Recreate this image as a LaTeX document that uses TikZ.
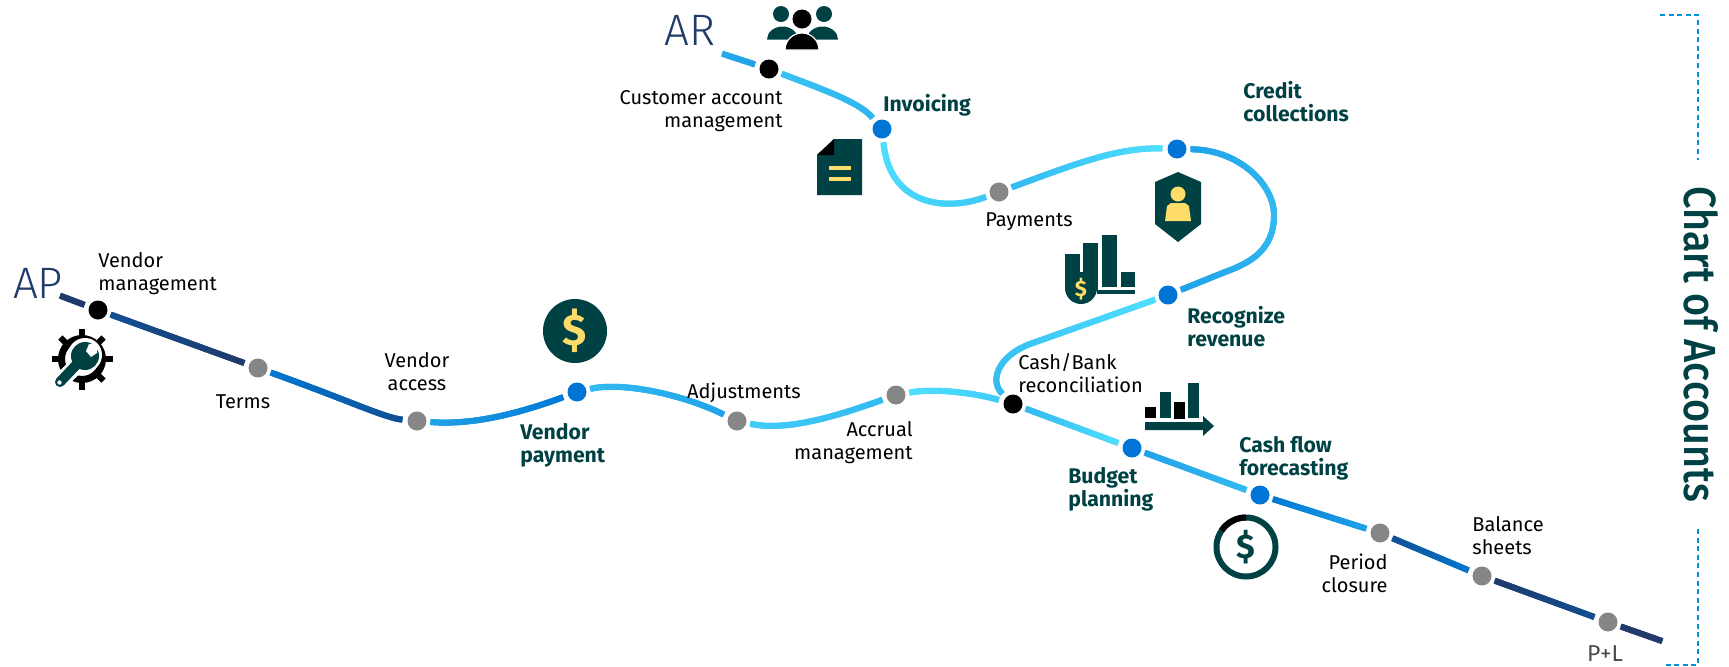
\documentclass[tikz,border=0pt]{standalone}
\usepackage{fontspec}
\setmainfont{Fira Sans}
\newfontfamily\lightfont{Fira Sans Light}
\newfontfamily\mediumfont{Fira Sans Medium}
\usetikzlibrary{decorations.markings}
\definecolor{tealk}{HTML}{004144}
\definecolor{yelk}{HTML}{FDDC69}
\definecolor{navyk}{HTML}{1F3A6B}
\definecolor{bluek}{HTML}{0075D6}
\definecolor{greyk}{HTML}{868686}
\definecolor{ln_a}{HTML}{1F3A6B}
\definecolor{ln_b}{HTML}{114F93}
\definecolor{ln_c}{HTML}{0078D4}
\definecolor{ln_d}{HTML}{21A3E8}
\definecolor{ln_e}{HTML}{33BAF1}
\definecolor{ln_f}{HTML}{4FDFFF}
\tikzset{
  stop_base/.style = {circle, inner sep=0pt, minimum size=9.5pt, outer sep=2.5pt},
  stop_k/.style = {stop_base, fill=black},% black stop
  stop_g/.style = {stop_base, fill=greyk},% grey stop
  stop_f/.style = {stop_base, fill=bluek},% blue stop
  lab_n/.style = {inner sep=0pt, font=\fontsize{10}{11.5}\selectfont, text=black},
  lab_f/.style = {inner sep=0pt, font=\fontsize{10.6}{11.5}\selectfont\bfseries, text=tealk},
  lab_h/.style = {inner sep=0pt, font=\fontsize{22}{24}\selectfont\lightfont, text=navyk},
  seg/.style 2 args = {draw=#1!50!#2, line width=3pt, postaction={decorate,
    decoration={markings, mark=between positions 0 and 1 step 1pt with {
      \pgfmathsetmacro\segpct{100-100*\pgfkeysvalueof{/pgf/decoration/mark info/distance from start}/\pgfdecoratedpathlength}
      \fill[#2!\segpct!#1] (-0.6pt,-1.5pt) rectangle (0.6pt,1.5pt);}}}},
  bracket/.style = {draw=bluek!80!cyan, line width=0.55pt, dash pattern=on 2.5pt off 1.8pt}
}
\begin{document}
\begin{tikzpicture}[x=0.5pt,y=-0.5pt]
\useasboundingbox (0,0) rectangle (1729,666);
% stops
\coordinate (ap_in) at (61,296);
\node [stop_k] (vmgmt) at (98,310) {};
\node [stop_g] (terms) at (258,368) {};
\node [stop_g] (vacc) at (417,421) {};
\node [stop_f] (vpay) at (577,392) {};
\node [stop_g] (adj) at (737,421) {};
\node [stop_g] (accr) at (896,395) {};
\node [stop_k] (cash) at (1013,404) {};
\node [stop_f] (budg) at (1132,448) {};
\node [stop_f] (flow) at (1260,495) {};
\node [stop_g] (peri) at (1380,533) {};
\node [stop_g] (bal) at (1482,576) {};
\node [stop_g] (pl) at (1608,622) {};
\coordinate (pl_out) at (1662,641);
\coordinate (ar_in) at (723,54);
\node [stop_k] (cust) at (769,69) {};
\node [stop_f] (inv) at (882,129) {};
\node [stop_g] (paym) at (999,192) {};
\node [stop_f] (cred) at (1177,149) {};
\coordinate (cred_b) at (1274,215);
\node [stop_f] (recog) at (1168,295) {};
% AP line
\draw [seg={ln_a}{ln_a}] (ap_in) -- (vmgmt);
\draw [seg={ln_a}{ln_b}] (vmgmt) -- (terms);
\draw [seg={ln_b}{ln_c}] (terms) .. controls (350,401) and (385,418) .. (vacc);
\draw [seg={ln_c}{ln_d}] (vacc) .. controls (470,425) and (515,415) .. (vpay);
\draw [seg={ln_d}{ln_e}] (vpay) .. controls (620,382) and (680,393) .. (adj);
\draw [seg={ln_e}{ln_e!50!ln_f}] (adj) .. controls (790,432) and (845,413) .. (accr);
\draw [seg={ln_e!50!ln_f}{ln_f}] (accr) .. controls (935,388) and (975,393) .. (cash);
\draw [seg={ln_f}{ln_e}] (cash) -- (budg);
\draw [seg={ln_e}{ln_d}] (budg) -- (flow);
\draw [seg={ln_d}{ln_c}] (flow) -- (peri);
\draw [seg={ln_c}{ln_b}] (peri) -- (bal);
\draw [seg={ln_b}{ln_a}] (bal) -- (pl);
\draw [seg={ln_a}{ln_a}] (pl) -- (pl_out);
% AR line
\draw [seg={ln_d}{ln_d!70!ln_e}] (ar_in) -- (cust);
\draw [seg={ln_e!80!ln_d}{ln_e!60!ln_f}] (cust) .. controls (830,92) and (860,103) .. (inv);
\draw [seg={ln_e!60!ln_f}{ln_f}] (inv) .. controls (890,205) and (945,212) .. (paym);
\draw [seg={ln_f}{ln_e}] (paym) .. controls (1080,162) and (1120,147) .. (cred);
\draw [seg={ln_e}{ln_d}] (cred) .. controls (1240,150) and (1274,185) .. (cred_b);
\draw [seg={ln_d}{ln_e}] (cred_b) .. controls (1274,250) and (1250,263) .. (1225,272) -- (recog);
\draw [seg={ln_e}{ln_f}] (recog) -- (1030,344) .. controls (1000,355) and (988,380) .. (cash);
% labels
\node [lab_h] (ap_t) at (38,283) {AP};
\node [lab_h] (ar_t) at (690,30) {AR};
\node [lab_n, anchor=west, align=left] (t_vmgmt) at (98,274) {Vendor\\management};
\node [lab_n] (t_terms) at (243,402) {Terms};
\node [lab_n, align=center] (t_vacc) at (417,372) {Vendor\\access};
\node [lab_f, anchor=west, align=left] (t_vpay) at (520,445) {Vendor\\payment};
\node [lab_n] (t_adj) at (744,393) {Adjustments};
\node [lab_n, anchor=east, align=right] (t_accr) at (913,443) {Accrual\\management};
\node [lab_n, anchor=west, align=left] (t_cash) at (1018,373) {Cash/Bank\\reconciliation};
\node [lab_f, anchor=west, align=left] (t_budg) at (1068,489) {Budget\\planning};
\node [lab_f, anchor=west, align=left] (t_flow) at (1239,458) {Cash flow\\forecasting};
\node [lab_n, anchor=east, align=right] (t_peri) at (1388,573) {Period\\closure};
\node [lab_n, anchor=west, align=left] (t_bal) at (1472,536) {Balance\\sheets};
\node [lab_n, text=black!70, font=\fontsize{11.5}{12}\selectfont] (t_pl) at (1605,654) {P+L};
\node [lab_n, anchor=east, align=right] (t_cust) at (783,111) {Customer account\\management};
\node [lab_f, anchor=west] (t_inv) at (883,105) {Invoicing};
\node [lab_n] (t_paym) at (1029,222) {Payments};
\node [lab_f, anchor=west, align=left] (t_cred) at (1243,102) {Credit\\collections};
\node [lab_f, anchor=west, align=left] (t_recog) at (1187,327) {Recognize\\revenue};
\node [rotate=-90, xscale=0.88, inner sep=0pt, text=tealk, font=\fontsize{22.5}{24}\selectfont\mediumfont] (coa) at (1701,344) {Chart of Accounts};
% bracket
\coordinate (br_a) at (1660,15);
\coordinate (br_b) at (1698,15);
\coordinate (br_c) at (1698,160);
\coordinate (br_d) at (1698,529);
\coordinate (br_e) at (1698,665);
\coordinate (br_f) at (1662,665);
\draw [bracket] (br_a) -- (br_b) -- (br_c);
\draw [bracket] (br_d) -- (br_e) -- (br_f);
% gear and wrench
\foreach \a in {0,45,...,315}
  \draw [line width=3pt] (82,359) ++(\a:20) -- ++(\a:10.5);
\draw [line width=3.5pt] (82,359) circle [radius=20.5];
\draw [white, line width=8pt] (60,382) -- (76,366);
\fill [white] (85,355) circle [radius=17];
\draw [tealk, line width=5pt, line cap=round] (60,382) -- (80,361);
\fill [tealk] (85,356) circle [radius=14];
\fill [white] (89,344) -- (98,344) -- (97,353) -- (91,357) -- (86,351) -- cycle;
\fill [white] (59.5,382.5) circle [radius=2.2];
% dollar disc
\fill [tealk] (575,331) circle [radius=32];
\node [inner sep=0pt, text=yelk, font=\fontsize{22}{24}\selectfont\bfseries] (usd_a) at (575,331) {\$};
% people
\fill [tealk] (781,14) circle [radius=8];
\fill [tealk] (824,14) circle [radius=8];
\fill [tealk] (767,39.5) arc [start angle=180, end angle=360, x radius=15.5, y radius=13] -- cycle;
\fill [tealk] (807,39.5) arc [start angle=180, end angle=360, x radius=15.5, y radius=13] -- cycle;
\fill [black] (802,19) circle [radius=9.5];
\fill [black, draw=white, line width=0.6pt] (785,50) arc [start angle=180, end angle=360, x radius=17, y radius=17] -- cycle;
% document
\fill [tealk] (817,155) -- (834,139) -- (862,139) -- (862,195) -- (817,195) -- cycle;
\fill [black] (817,155) -- (834,139) -- (834,155) -- cycle;
\fill [yelk] (829,166) rectangle (851,170);
\fill [yelk] (829,177) rectangle (851,181);
% shield
\fill [tealk] (1178,172) -- (1201,182) -- (1201,224) -- (1178,242) -- (1155,224) -- (1155,182) -- cycle;
\fill [yelk] (1178,194) circle [radius=7.5];
\fill [yelk] (1171,203) -- (1185,203) -- (1189,206) -- (1191,221) -- (1165,221) -- (1167,206) -- cycle;
% revenue chart
\fill [tealk] (1065,254) rectangle (1080,290);
\fill [tealk] (1083,243) rectangle (1098,290);
\fill [tealk] (1065,272) rectangle (1097,290);
\fill [tealk] (1097,288) arc [start angle=0, end angle=180, radius=16] -- cycle;
\fill [tealk] (1102,235) rectangle (1117,287);
\fill [tealk] (1121,272) rectangle (1135,287);
\fill [tealk] (1097,290) rectangle (1135,294);
\node [inner sep=0pt, text=yelk, font=\fontsize{11}{12}\selectfont\bfseries] (usd_b) at (1081,289) {\$};
% forecast chart
\fill [black] (1145,407) rectangle (1156,418);
\fill [tealk] (1160,392) rectangle (1171,418);
\fill [black] (1174,402) rectangle (1185,419);
\fill [tealk] (1188,383) rectangle (1199,418);
\fill [tealk] (1145,422) -- (1203,422) -- (1203,416) -- (1214,426) -- (1203,436) -- (1203,430) -- (1145,430) -- cycle;
% dollar ring
\draw [tealk, line width=3pt] (1246,547) circle [radius=29.5];
\draw [black, line width=3pt] (1246,547) +(-90:29.5) arc [start angle=-90, end angle=-146, radius=29.5];
\node [inner sep=0pt, text=tealk, font=\fontsize{17}{18}\selectfont\bfseries] (usd_c) at (1246,547) {\$};
\end{tikzpicture}
\end{document}
